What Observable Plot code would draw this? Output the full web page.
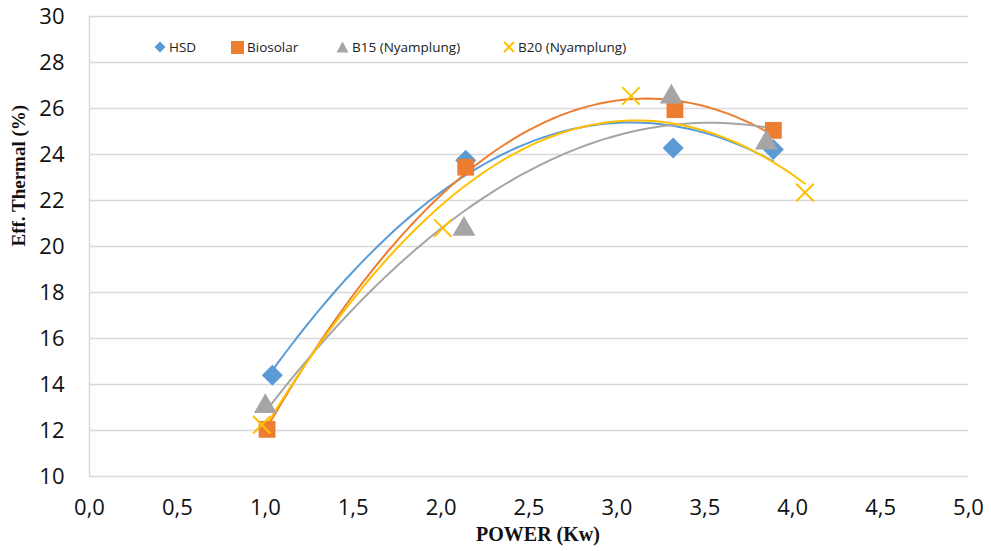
<!DOCTYPE html>
<html>
<head>
<meta charset="utf-8">
<script src="https://cdn.jsdelivr.net/npm/d3@7"></script>
<script src="https://cdn.jsdelivr.net/npm/@observablehq/plot@0.6"></script>
<style>
  html, body { margin: 0; padding: 0; background: #fff; }
  #wrap { position: relative; width: 991px; height: 551px; }
  .leg { position: absolute; top: 38px; font-family: "Open Sans", sans-serif; font-size: 13.5px; color: #222; display: flex; align-items: center; white-space: nowrap; }
  .leg svg { margin-right: 3px; }
</style>
</head>
<body>
<div id="wrap"></div>
<script>
// ---- data ----
const seriesNames = ["HSD", "Biosolar", "B15 (Nyamplung)", "B20 (Nyamplung)"];
const seriesColors = ["#5B9BD5", "#ED7D31", "#A5A5A5", "#FFC000"];
const seriesSymbols = ["diamond2", "square", "triangle", "times"];

const powerHSD = [1.04, 2.14, 3.32, 3.89];
const effHSD   = [14.4, 23.75, 24.28, 24.22];
const powerBio = [1.01, 2.14, 3.33, 3.89];
const effBio   = [12.05, 23.45, 25.95, 25.05];
const powerB15 = [1.00, 2.13, 3.31, 3.85];
const effB15   = [13.05, 20.75, 26.5, 24.5];
const powerB20 = [0.98, 2.01, 3.08, 4.07];
const effB20   = [12.25, 20.8, 26.55, 22.35];

const xTicks = [0, 0.5, 1, 1.5, 2, 2.5, 3, 3.5, 4, 4.5, 5];
const yTicks = [10, 12, 14, 16, 18, 20, 22, 24, 26, 28, 30];
const xTitle = "POWER (Kw)";
const yTitle = "Eff. Thermal (%)";

// ---- build tables ----
const raw = [[powerHSD, effHSD], [powerBio, effBio], [powerB15, effB15], [powerB20, effB20]];
const points = [];
raw.forEach(([xs, ys], i) => xs.forEach((x, j) => points.push({series: seriesNames[i], x, y: ys[j]})));

// quadratic least-squares trendline (Excel polynomial order 2)
function quadFit(xs, ys) {
  const n = xs.length;
  let s = [0,0,0,0,0], t = [0,0,0];
  for (let k = 0; k < n; k++) {
    const x = xs[k], y = ys[k];
    for (let p = 0; p <= 4; p++) s[p] += Math.pow(x, p);
    for (let p = 0; p <= 2; p++) t[p] += Math.pow(x, p) * y;
  }
  const A = [[s[0], s[1], s[2], t[0]], [s[1], s[2], s[3], t[1]], [s[2], s[3], s[4], t[2]]];
  for (let c = 0; c < 3; c++) {
    let piv = c;
    for (let r = c + 1; r < 3; r++) if (Math.abs(A[r][c]) > Math.abs(A[piv][c])) piv = r;
    [A[c], A[piv]] = [A[piv], A[c]];
    for (let r = 0; r < 3; r++) if (r !== c) {
      const f = A[r][c] / A[c][c];
      for (let k = c; k < 4; k++) A[r][k] -= f * A[c][k];
    }
  }
  return [A[0][3] / A[0][0], A[1][3] / A[1][1], A[2][3] / A[2][2]];
}
const trend = [];
raw.forEach(([xs, ys], i) => {
  const [a, b, c] = quadFit(xs, ys);
  const x0 = d3.min(xs), x1 = d3.max(xs);
  for (let k = 0; k <= 80; k++) {
    const x = x0 + (x1 - x0) * k / 80;
    trend.push({series: seriesNames[i], x, y: a + b * x + c * x * x});
  }
});

const only = name => points.filter(d => d.series === name);
const tickFont = "'Open Sans', sans-serif";
const chart = Plot.plot({
  width: 991, height: 551,
  marginLeft: 89, marginRight: 23, marginTop: 16, marginBottom: 75,
  style: {fontFamily: tickFont, fontSize: "22px", background: "#fff"},
  x: {domain: [0, 5], ticks: xTicks},
  y: {domain: [10, 30], ticks: yTicks},
  color: {domain: seriesNames, range: seriesColors},
  symbol: {domain: seriesNames, range: seriesSymbols},
  marks: [
    Plot.gridY(yTicks, {stroke: "#d9d9d9", strokeOpacity: 1, strokeWidth: 1.5}),
    Plot.ruleX([0], {stroke: "#d9d9d9", strokeWidth: 1.5}),
    Plot.axisY(yTicks, {tickSize: 0, tickPadding: 25, fontSize: 22, label: null, fill: "#111", tickFormat: d => d}),
    Plot.axisX(xTicks, {tickSize: 0, tickPadding: 23, fontSize: 22, label: null, fill: "#111", tickFormat: d => d.toFixed(1).replace(".", ",")}),
    Plot.line(trend, {x: "x", y: "y", z: "series", stroke: "series", strokeWidth: 2}),
    Plot.dot(only("HSD"), {x: "x", y: "y", symbol: "series", fill: "series", r: 9.5}),
    Plot.dot(only("Biosolar"), {x: "x", y: "y", symbol: "series", fill: "series", r: 9.5}),
    Plot.dot(only("B15 (Nyamplung)"), {x: "x", y: "y", symbol: "series", fill: "series", r: 8.5}),
    Plot.dot(only("B20 (Nyamplung)"), {x: "x", y: "y", symbol: "series", stroke: "series", strokeWidth: 2, r: 8}),
    Plot.text([xTitle], {frameAnchor: "bottom", dx: 9, dy: 64, fontFamily: "'Liberation Serif', serif", fontWeight: "bold", fontSize: 20, fill: "#111"}),
    Plot.text([yTitle], {frameAnchor: "left", rotate: -90, dx: -71, fontFamily: "'Liberation Serif', serif", fontWeight: "bold", fontSize: 19, fill: "#111"})
  ]
});
const wrap = document.getElementById("wrap");
wrap.appendChild(chart);

// legend overlay (inside plot area, top)
const legLeft = [154, 231, 336, 503];
const legShapes = [
  c => `<svg width="12" height="12"><path d="M6 0.5 L11.5 6 L6 11.5 L0.5 6Z" fill="${c}"/></svg>`,
  c => `<svg width="13" height="13"><rect x="0" y="0" width="13" height="13" fill="${c}"/></svg>`,
  c => `<svg width="13" height="12"><path d="M6.5 0.5 L12.5 11.5 L0.5 11.5Z" fill="${c}"/></svg>`,
  c => `<svg width="12" height="12"><path d="M1 1 L11 11 M11 1 L1 11" stroke="${c}" stroke-width="2"/></svg>`
];
seriesNames.forEach((name, i) => {
  const d = document.createElement("div");
  d.className = "leg";
  d.style.left = legLeft[i] + "px";
  d.innerHTML = legShapes[i](seriesColors[i]) + `<span>${name}</span>`;
  wrap.appendChild(d);
});
</script>
</body>
</html>
